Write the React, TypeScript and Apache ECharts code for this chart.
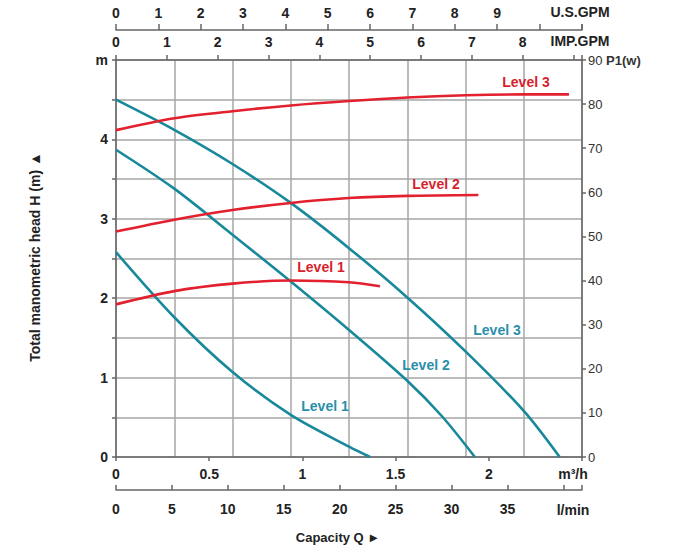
import React, { useEffect, useRef } from "react";
import * as echarts from "echarts";

// Flow axis in m³/h (x), head H in m (left), power P1 in W (right)
const flowTicksM3h = [0, 0.5, 1, 1.5, 2];
const flowTicksLmin = [0, 5, 10, 15, 20, 25, 30, 35];
const usGpmTicks = [0, 1, 2, 3, 4, 5, 6, 7, 8, 9];
const impGpmTicks = [0, 1, 2, 3, 4, 5, 6, 7, 8];
const headTicks = [0, 1, 2, 3, 4];
const powerTicks = [0, 10, 20, 30, 40, 50, 60, 70, 80, 90];

// Head curves (Q m³/h, H m)
const headL3Q = [0, 0.3125, 0.625, 0.9375, 1.25, 1.5625, 1.875, 2.1875, 2.38];
const headL3H = [4.5, 4.12, 3.69, 3.2, 2.63, 2.01, 1.33, 0.58, 0];
const headL2Q = [0, 0.3125, 0.625, 0.9375, 1.25, 1.5625, 1.75, 1.925];
const headL2H = [3.87, 3.38, 2.8, 2.21, 1.6, 0.96, 0.51, 0];
const headL1Q = [0, 0.3125, 0.625, 0.9375, 1.25, 1.363];
const headL1H = [2.58, 1.76, 1.07, 0.53, 0.13, 0];

// Power curves (Q m³/h, P1 W)
const powerL3Q = [0, 0.3125, 0.625, 0.9375, 1.25, 1.5625, 1.875, 2.1875, 2.43];
const powerL3P = [74.1, 76.8, 78.4, 79.7, 80.7, 81.5, 82.0, 82.2, 82.2];
const powerL2Q = [0, 0.3125, 0.625, 0.9375, 1.25, 1.5625, 1.944];
const powerL2P = [51.1, 53.8, 56.0, 57.6, 58.7, 59.2, 59.4];
const powerL1Q = [0, 0.3125, 0.625, 0.9375, 1.25, 1.416];
const powerL1P = [34.6, 37.6, 39.3, 40.0, 39.6, 38.7];

const levelNames = ["Level 1", "Level 2", "Level 3"];

const Q_MAX = 2.5; // m³/h
const LMIN_MAX = (Q_MAX * 1000) / 60;
const USGPM_MAX = LMIN_MAX / 3.78541;
const IMPGPM_MAX = LMIN_MAX / 4.54609;

const FONT = "'Liberation Sans', Arial, Helvetica, sans-serif";
const RED = "#e2202e";
const RED_TEXT = "#d81f2d";
const TEAL = "#17899a";
const TEAL_TEXT = "#2a8fab";
const AXIS = "#666";
const GRID = "#a6a6a6";
const TXT = "#222";

const pairs = (xs: number[], ys: number[]) => xs.map((x, i) => [x, ys[i]]);

export default function App() {
  const ref = useRef<HTMLDivElement>(null);

  useEffect(() => {
    document.body.style.margin = "0";
    if (!ref.current) return;
    const chart = echarts.init(ref.current, undefined, { renderer: "svg" });

    const labelOf = (ticks: number[]) => (v: number) =>
      ticks.some((t) => Math.abs(t - v) < 1e-6) ? String(v) : "";

    const boldLabel = {
      fontFamily: FONT,
      fontWeight: "bold" as const,
      fontSize: 14,
      color: TXT,
    };

    const headSeries = [
      [headL1Q, headL1H],
      [headL2Q, headL2H],
      [headL3Q, headL3H],
    ].map(([q, h], i) => ({
      name: "H " + levelNames[i],
      type: "line",
      xAxisIndex: 0,
      yAxisIndex: 0,
      data: pairs(q, h),
      smooth: 0.3,
      symbol: "none",
      lineStyle: { color: TEAL, width: 2.6 },
      z: 5,
    }));

    const powerSeries = [
      [powerL1Q, powerL1P],
      [powerL2Q, powerL2P],
      [powerL3Q, powerL3P],
    ].map(([q, p], i) => ({
      name: "P " + levelNames[i],
      type: "line",
      xAxisIndex: 0,
      yAxisIndex: 1,
      data: pairs(q, p),
      smooth: 0.3,
      symbol: "none",
      lineStyle: { color: RED, width: 2.6 },
      z: 6,
    }));

    const text = (
      t: string,
      x: number,
      y: number,
      color: string,
      size = 14,
      extra: any = {}
    ) => ({
      type: "text",
      x,
      y,
      z: 20,
      ...extra,
      style: {
        text: t,
        fill: color,
        font: `bold ${size}px ${FONT}`,
        align: "center",
        verticalAlign: "middle",
      },
    });

    chart.setOption({
      animation: false,
      backgroundColor: "#fff",
      grid: { left: 116, right: 95, top: 60, bottom: 93 },
      xAxis: [
        {
          // m³/h main axis
          type: "value",
          position: "bottom",
          min: 0,
          max: Q_MAX,
          interval: 0.5,
          axisLine: { show: true, lineStyle: { color: AXIS, width: 1.5 } },
          axisTick: { show: true, length: 4, lineStyle: { color: AXIS, width: 1.5 } },
          axisLabel: { ...boldLabel, margin: 10, formatter: labelOf(flowTicksM3h) },
          splitLine: { show: false },
        },
        {
          // vertical grid lines
          type: "value",
          position: "bottom",
          min: 0,
          max: Q_MAX,
          interval: Q_MAX / 8,
          axisLine: { show: false },
          axisTick: { show: false },
          axisLabel: { show: false },
          splitLine: { show: true, lineStyle: { color: GRID, width: 1.5 } },
        },
        {
          // l/min
          type: "value",
          position: "bottom",
          offset: 33,
          min: 0,
          max: LMIN_MAX,
          interval: 5,
          axisLine: { show: true, onZero: false, lineStyle: { color: AXIS, width: 1.5 } },
          axisTick: { show: true, inside: true, length: 5, lineStyle: { color: AXIS, width: 1.5 } },
          axisLabel: { ...boldLabel, margin: 12, formatter: labelOf(flowTicksLmin) },
          splitLine: { show: false },
        },
        {
          // IMP GPM
          type: "value",
          position: "top",
          offset: 0,
          min: 0,
          max: IMPGPM_MAX,
          interval: 1,
          axisLine: { show: true, onZero: false, lineStyle: { color: AXIS, width: 1.5 } },
          axisTick: { show: true, length: 5, lineStyle: { color: AXIS, width: 1.5 } },
          axisLabel: { ...boldLabel, margin: 11, formatter: labelOf(impGpmTicks) },
          splitLine: { show: false },
        },
        {
          // US GPM
          type: "value",
          position: "top",
          offset: 30,
          min: 0,
          max: USGPM_MAX,
          interval: 1,
          axisLine: { show: true, onZero: false, lineStyle: { color: AXIS, width: 1.5 } },
          axisTick: { show: true, length: 6, lineStyle: { color: AXIS, width: 1.5 } },
          axisLabel: { ...boldLabel, margin: 10, formatter: labelOf(usGpmTicks) },
          splitLine: { show: false },
        },
      ],
      yAxis: [
        {
          type: "value",
          position: "left",
          min: 0,
          max: 5,
          interval: 0.5,
          axisLine: { show: true, onZero: false, lineStyle: { color: AXIS, width: 1.5 } },
          axisTick: { show: true, length: 4, lineStyle: { color: AXIS, width: 1.5 } },
          axisLabel: {
            ...boldLabel,
            margin: 8,
            formatter: (v: number) =>
              Math.abs(v - 5) < 1e-6 ? "m" : labelOf(headTicks)(v),
          },
          splitLine: { show: true, lineStyle: { color: GRID, width: 1.5 } },
        },
        {
          type: "value",
          position: "right",
          min: 0,
          max: 90,
          interval: 10,
          axisLine: { show: true, onZero: false, lineStyle: { color: AXIS, width: 1.5 } },
          axisTick: { show: true, length: 4, lineStyle: { color: AXIS, width: 1.5 } },
          axisLabel: {
            fontFamily: FONT,
            fontSize: 13,
            color: "#333",
            margin: 6,
            formatter: (v: number) =>
              v === 90 ? "90 {p|P1(w)}" : labelOf(powerTicks)(v),
            rich: {
              p: { fontFamily: FONT, fontSize: 13, fontWeight: "bold", color: "#333" },
            },
          },
          splitLine: { show: false },
        },
      ],
      series: [...headSeries, ...powerSeries],
      graphic: [
        text("U.S.GPM", 580, 12, TXT, 14),
        text("IMP.GPM", 580, 41, TXT, 14),
        text("m³/h", 573, 474, TXT, 14),
        text("l/min", 573, 510, TXT, 14),
        text("Capacity Q ►", 338, 537, TXT, 13),
        text("Total manometric head H (m) ▲", 35, 257, TXT, 14, {
          rotation: Math.PI / 2,
        }),
        text(levelNames[2], 526, 82, RED_TEXT, 14),
        text(levelNames[1], 436, 184, RED_TEXT, 14),
        text(levelNames[0], 321, 267, RED_TEXT, 14),
        text(levelNames[2], 497, 330, TEAL_TEXT, 14),
        text(levelNames[1], 426, 365, TEAL_TEXT, 14),
        text(levelNames[0], 325, 406, TEAL_TEXT, 14),
      ],
    });

    return () => chart.dispose();
  }, []);

  return (
    <div
      ref={ref}
      style={{ position: "fixed", left: 0, top: 0, width: 677, height: 550 }}
    />
  );
}
